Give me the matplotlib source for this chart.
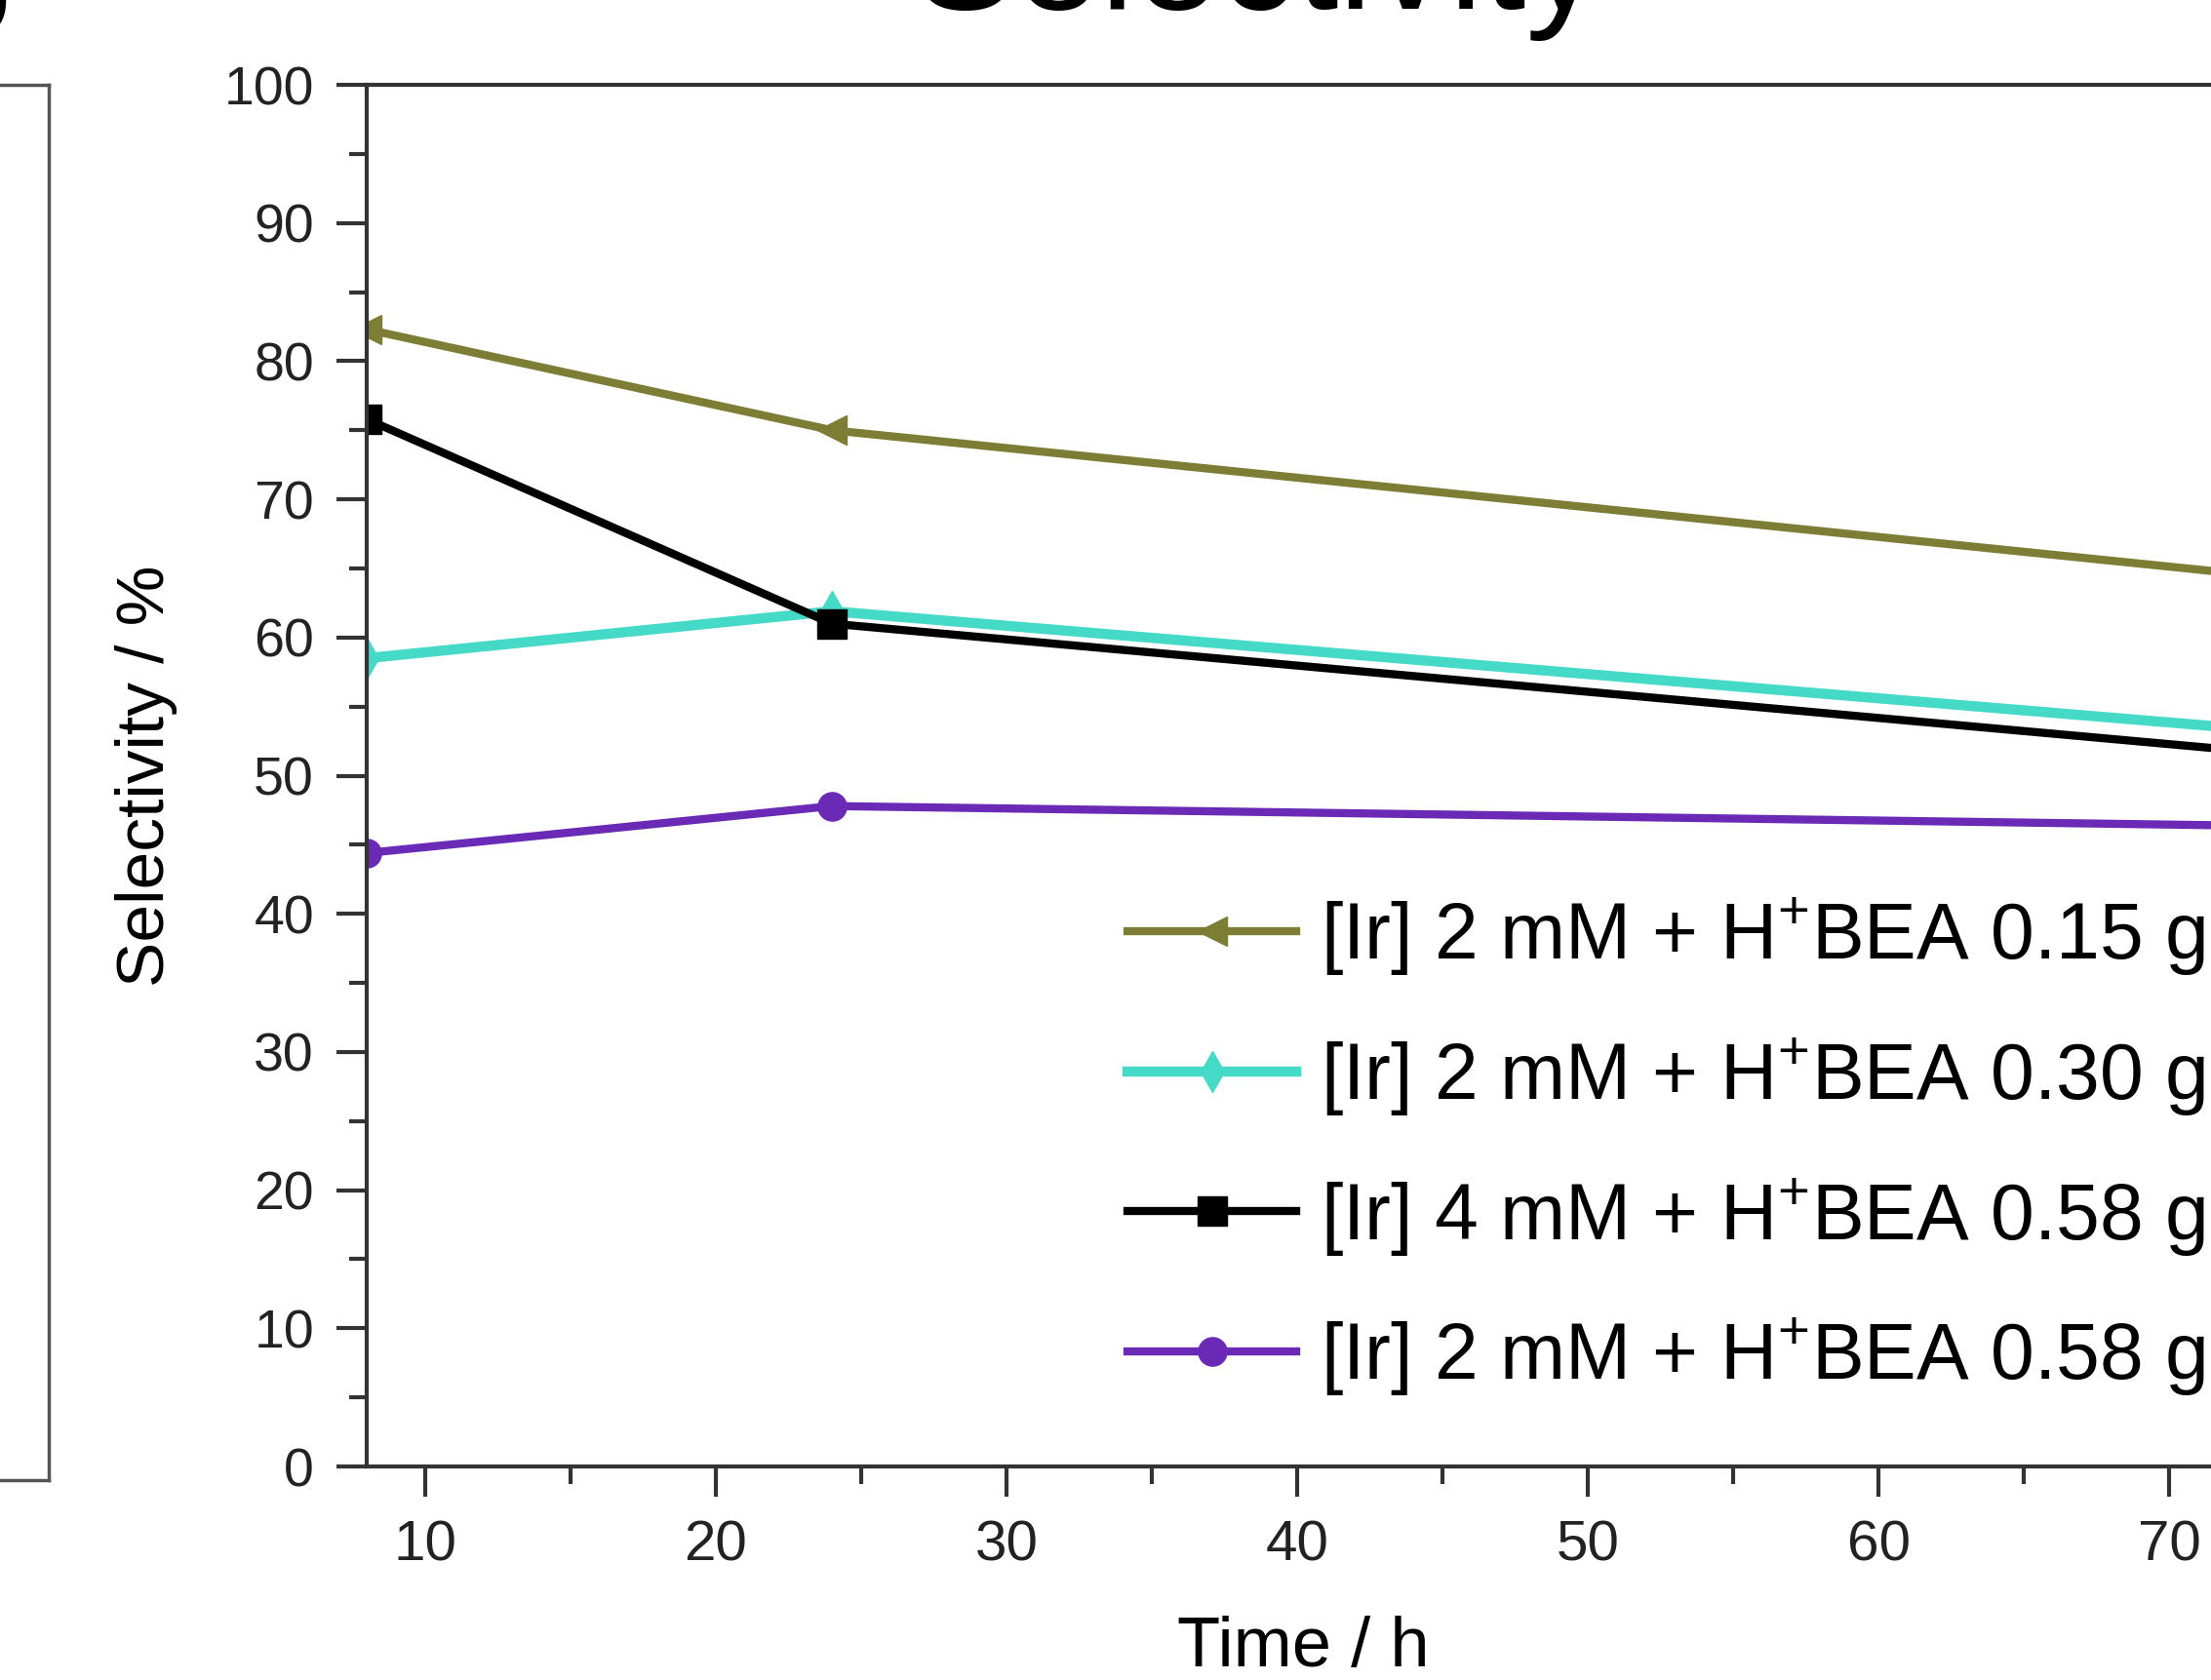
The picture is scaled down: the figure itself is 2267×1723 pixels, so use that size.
import matplotlib
matplotlib.use("Agg")
import matplotlib.pyplot as plt
from matplotlib.ticker import MultipleLocator

# data
time_h = [8, 24, 72]
sel_015 = [82.3, 75.0, 64.7]   # [Ir] 2 mM + H+BEA 0.15 g
sel_030 = [58.5, 61.9, 53.5]   # [Ir] 2 mM + H+BEA 0.30 g
sel_4mM = [75.8, 61.0, 51.9]   # [Ir] 4 mM + H+BEA 0.58 g
sel_058 = [44.4, 47.8, 46.4]   # [Ir] 2 mM + H+BEA 0.58 g

labels = ['[Ir] 2 mM + H$^{+}$BEA 0.15 g',
          '[Ir] 2 mM + H$^{+}$BEA 0.30 g',
          '[Ir] 4 mM + H$^{+}$BEA 0.58 g',
          '[Ir] 2 mM + H$^{+}$BEA 0.58 g']
colors = ['#7d7d35', '#45d9c8', '#000000', '#6a2ab5']
markers = ['<', 'd', 's', 'o']

plt.rcParams['font.family'] = ['Liberation Sans', 'DejaVu Sans']
plt.rcParams['mathtext.fontset'] = 'custom'
plt.rcParams['mathtext.rm'] = 'Liberation Sans'
plt.rcParams['mathtext.it'] = 'Liberation Sans:italic'

W, H = 2267, 1723
fig = plt.figure(figsize=(W / 100, H / 100), dpi=100)

# neighbouring panel, only its right edge shows
axl = fig.add_axes([-0.5, 0.119, 0.522, 0.8305])
axl.set_xticks([])
axl.set_yticks([])
for s in axl.spines.values():
    s.set_linewidth(2.5)
    s.set_color('#555555')

ax = fig.add_axes([0.1659, 0.1271, 0.881, 0.8224])
series = [sel_015, sel_030, sel_4mM, sel_058]
widths = [6, 7.5, 6, 6]
for ys, lab, c, m, lw in zip(series, labels, colors, markers, widths):
    ax.plot(time_h, ys, color=c, marker=m, markersize=21, linewidth=lw, label=lab)

ax.set_xlim(8, 75)
ax.set_ylim(0, 100)
ax.xaxis.set_major_locator(MultipleLocator(10))
ax.xaxis.set_minor_locator(MultipleLocator(5))
ax.yaxis.set_major_locator(MultipleLocator(10))
ax.yaxis.set_minor_locator(MultipleLocator(5))
ax.tick_params(which='major', direction='out', length=22, width=3, color='#333333', pad=17)
ax.tick_params(which='minor', direction='out', length=13, width=3, color='#333333')
ax.tick_params(axis='y', labelsize=40, labelcolor='#222222')
ax.tick_params(axis='x', labelsize=42, labelcolor='#222222')
ax.spines['right'].set_visible(False)
for s in ['left', 'bottom', 'top']:
    ax.spines[s].set_linewidth(3)
    ax.spines[s].set_color('#333333')

ax.set_ylabel('Selectivity / %', fontsize=50)
ax.yaxis.set_label_coords(-0.097, 0.5)
ax.set_xlabel('Time / h', fontsize=52)
ax.xaxis.set_label_coords(0.481, -0.108)

leg = ax.legend(loc='upper left', bbox_to_anchor=(0.51, 0.467), bbox_transform=fig.transFigure,
                frameon=False, fontsize=58, handlelength=2.15, handletextpad=0.3,
                labelspacing=0.74, borderpad=0, borderaxespad=0)

# title, mostly cut off at the top of the crop
fig.text(0.569, 0.9948, 'Selectivity', fontsize=113, ha='center', va='baseline')
# panel letter, cut off at the left edge
fig.text(0.005, 0.981, 'b', fontsize=90, fontweight='bold', ha='right', va='baseline')

fig.savefig('out.png', dpi=100)
